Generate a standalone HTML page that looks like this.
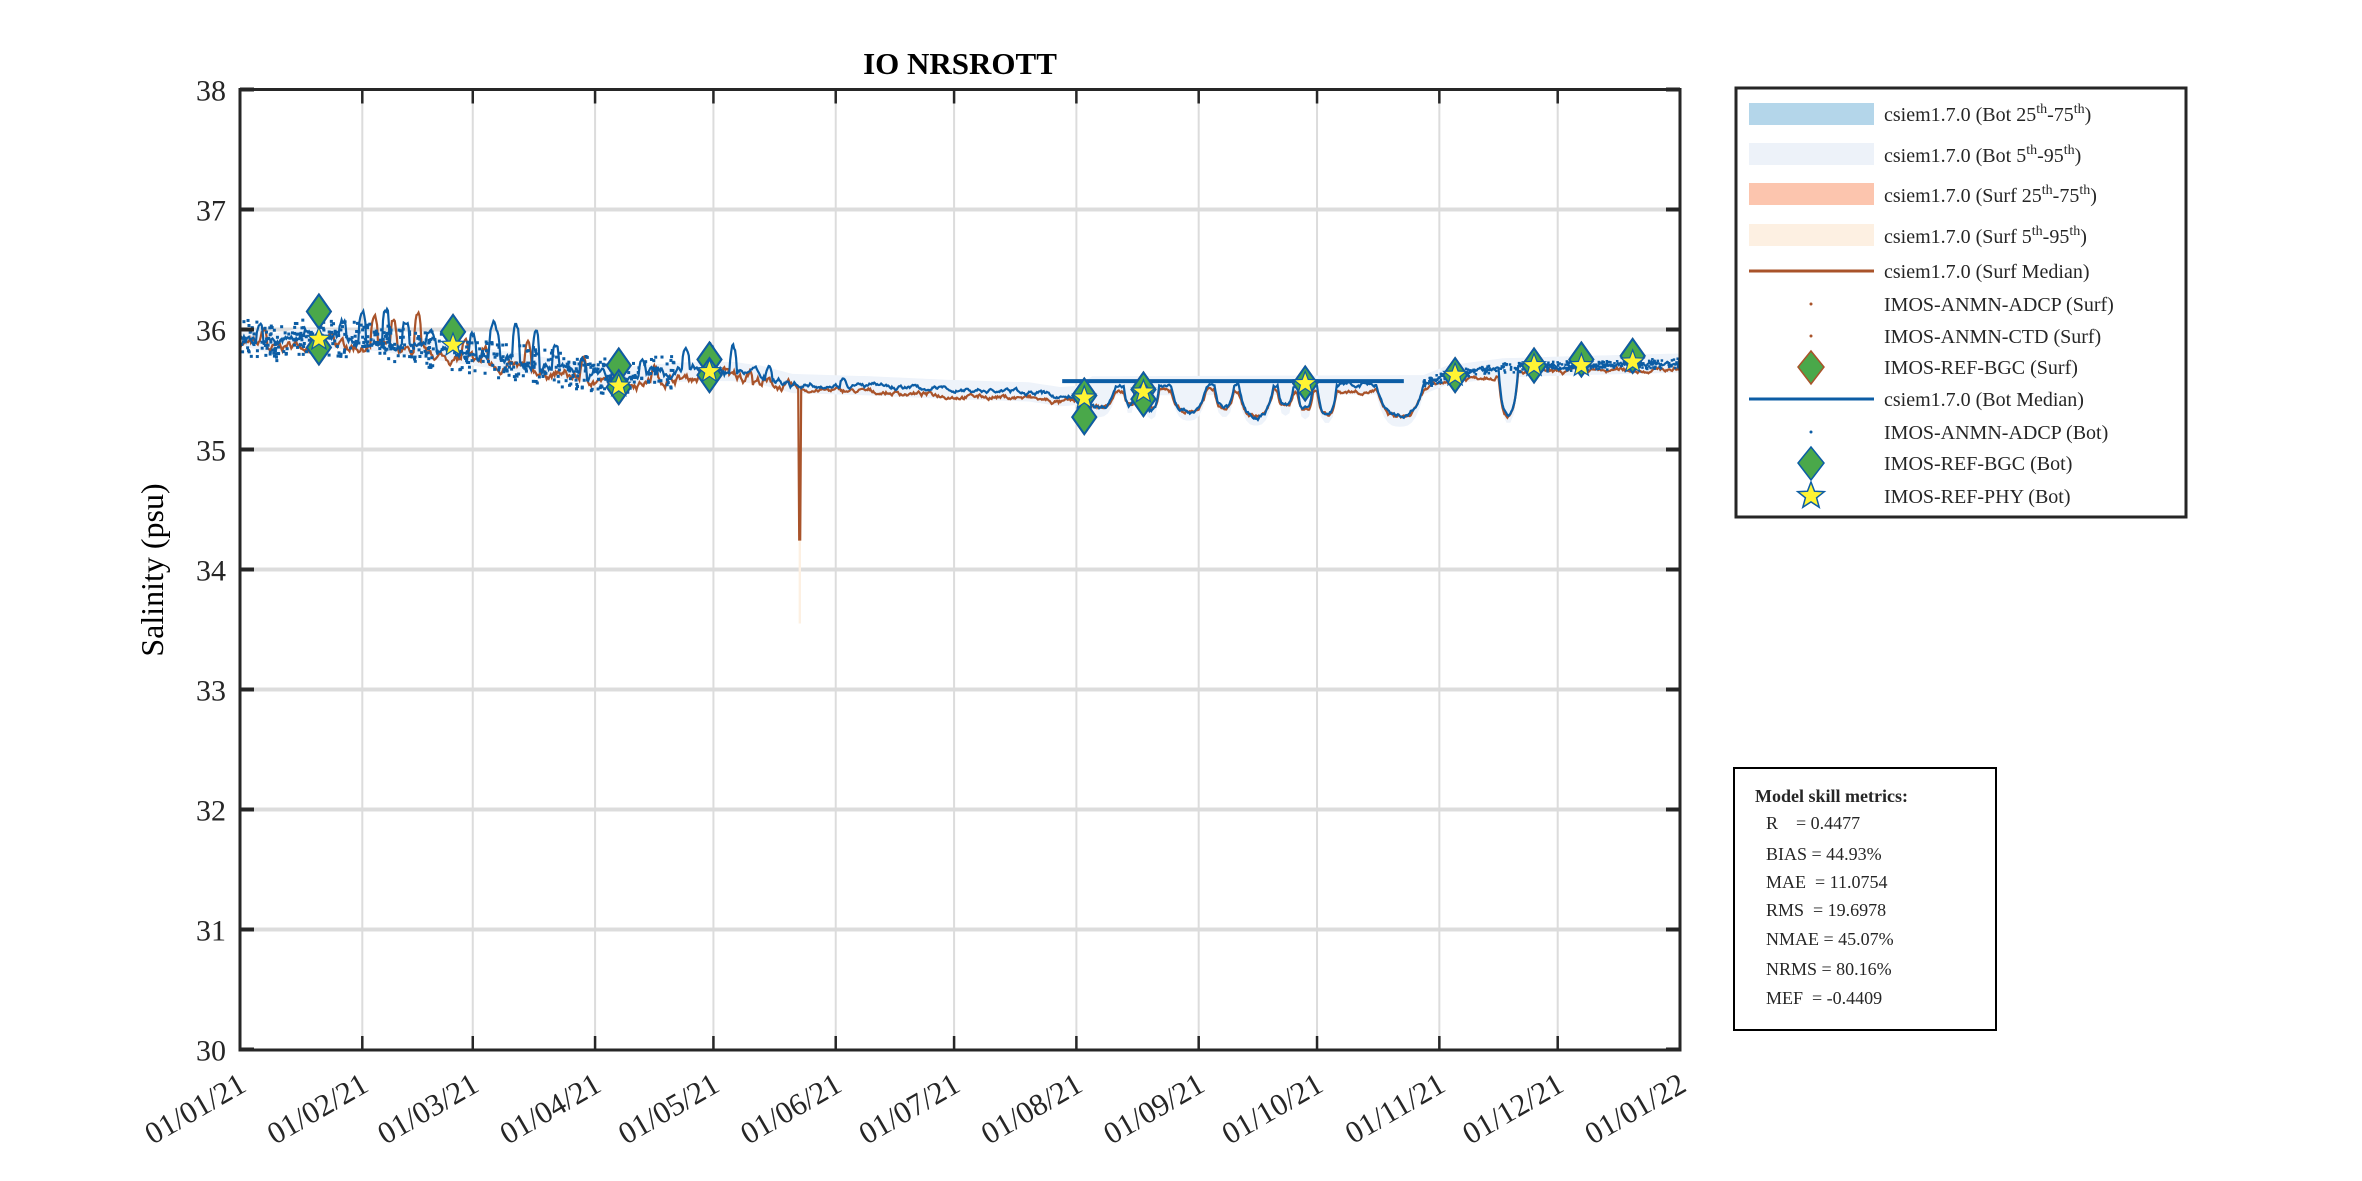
<!DOCTYPE html>
<html><head><meta charset="utf-8"><style>
html,body{margin:0;padding:0;background:#fff}
svg{display:block}
text{font-family:"Liberation Serif",serif;fill:#262626}
</style></head><body>
<svg id="s" width="2362" height="1181" viewBox="0 0 2362 1181" xmlns="http://www.w3.org/2000/svg">
<rect width="2362" height="1181" fill="#fff"/>
<g id="grid" stroke="#dcdcdc" stroke-width="2"></g>
<g id="data"></g>
<g id="axes"></g>
<text x="960" y="74" font-size="31" font-weight="bold" text-anchor="middle" style="fill:#000">IO NRSROTT</text>
<text transform="translate(163,570) rotate(-90)" font-size="32" text-anchor="middle" style="fill:#000">Salinity (psu)</text>
<g id="ylab" font-size="30" text-anchor="end"></g>
<g id="xlab" font-size="31" text-anchor="end"></g>
<rect x="1736" y="88" width="450" height="429" fill="#fff" stroke="#262626" stroke-width="3"/>
<rect x="1749" y="103" width="125" height="22" fill="#b4d6ea"/>
<rect x="1749" y="143" width="125" height="22" fill="#edf2f9"/>
<rect x="1749" y="183" width="125" height="22" fill="#fcc5ae"/>
<rect x="1749" y="224" width="125" height="22" fill="#fdf0e2"/>
<line x1="1749" y1="271" x2="1874" y2="271" stroke="#a9532a" stroke-width="3"/>
<circle cx="1811" cy="304" r="1.5" fill="#a9532a"/>
<circle cx="1811" cy="336" r="1.5" fill="#a9532a"/>
<polygon points="1811,351 1824,367 1811,384 1798,367" fill="#4aa84a" stroke="#a9532a" stroke-width="1.5"/>
<line x1="1749" y1="399" x2="1874" y2="399" stroke="#0c5da5" stroke-width="3"/>
<circle cx="1811" cy="432" r="1.5" fill="#0c5da5"/>
<polygon points="1811,447 1824,463 1811,480 1798,463" fill="#4aa84a" stroke="#0c5da5" stroke-width="1.5"/>
<polygon id="lstar" fill="#fff433" stroke="#0c5da5" stroke-width="1.5"/>
<g font-size="20" style="fill:#000">
<text x="1884" y="121">csiem1.7.0 (Bot 25<tspan dy="-8" font-size="14">th</tspan><tspan dy="8">-75</tspan><tspan dy="-8" font-size="14">th</tspan><tspan dy="8">)</tspan></text>
<text x="1884" y="162">csiem1.7.0 (Bot 5<tspan dy="-8" font-size="14">th</tspan><tspan dy="8">-95</tspan><tspan dy="-8" font-size="14">th</tspan><tspan dy="8">)</tspan></text>
<text x="1884" y="202">csiem1.7.0 (Surf 25<tspan dy="-8" font-size="14">th</tspan><tspan dy="8">-75</tspan><tspan dy="-8" font-size="14">th</tspan><tspan dy="8">)</tspan></text>
<text x="1884" y="243">csiem1.7.0 (Surf 5<tspan dy="-8" font-size="14">th</tspan><tspan dy="8">-95</tspan><tspan dy="-8" font-size="14">th</tspan><tspan dy="8">)</tspan></text>
<text x="1884" y="278">csiem1.7.0 (Surf Median)</text>
<text x="1884" y="311">IMOS-ANMN-ADCP (Surf)</text>
<text x="1884" y="343">IMOS-ANMN-CTD (Surf)</text>
<text x="1884" y="374">IMOS-REF-BGC (Surf)</text>
<text x="1884" y="406">csiem1.7.0 (Bot Median)</text>
<text x="1884" y="439">IMOS-ANMN-ADCP (Bot)</text>
<text x="1884" y="470">IMOS-REF-BGC (Bot)</text>
<text x="1884" y="503">IMOS-REF-PHY (Bot)</text>
</g>
<rect x="1734" y="768" width="262" height="262" fill="#fff" stroke="#000" stroke-width="2"/>
<g font-size="18" style="fill:#000">
<text x="1755" y="802" font-weight="bold">Model skill metrics:</text>
<text x="1766" y="829">R&#160;&#160;&#160;&#160;= 0.4477</text>
<text x="1766" y="860">BIAS = 44.93%</text>
<text x="1766" y="888">MAE&#160;&#160;= 11.0754</text>
<text x="1766" y="916">RMS&#160;&#160;= 19.6978</text>
<text x="1766" y="945">NMAE = 45.07%</text>
<text x="1766" y="975">NRMS = 80.16%</text>
<text x="1766" y="1004">MEF&#160;&#160;= -0.4409</text>
</g>
</svg>
<script>
var NS="http://www.w3.org/2000/svg";
var L=240,R=1680,T=89.5,B=1050;
function X(d){return L+d*(R-L)/365}
function Y(s){return T+(38-s)*120}
function el(p,tag,a){var e=document.createElementNS(NS,tag);for(var k in a)e.setAttribute(k,a[k]);p.appendChild(e);return e}
var g=document.getElementById('grid'),ax=document.getElementById('axes'),yl=document.getElementById('ylab'),xl=document.getElementById('xlab'),dt=document.getElementById('data');
var md=[0,31,59,90,120,151,181,212,243,273,304,334,365];
var lbl=["01/01/21","01/02/21","01/03/21","01/04/21","01/05/21","01/06/21","01/07/21","01/08/21","01/09/21","01/10/21","01/11/21","01/12/21","01/01/22"];
for(var i=1;i<12;i++){var x=X(md[i]);el(g,'line',{x1:x,y1:T,x2:x,y2:B});}
for(var s=31;s<38;s++){el(g,'line',{x1:L,y1:Y(s),x2:R,y2:Y(s),'stroke-width':4});}
var seed=7;function rnd(){seed=(seed*16807)%2147483647;return seed/2147483647}
function interp(kp,t){for(var i=1;i<kp.length;i++){if(t<=kp[i][0]){var a=kp[i-1],b=kp[i];return a[1]+(b[1]-a[1])*(t-a[0])/(b[0]-a[0])}}return kp[kp.length-1][1]}
var base=[[0,35.95],[8,35.88],[15,35.93],[25,35.92],[35,35.9],[45,35.85],[55,35.8],[65,35.75],[75,35.7],[85,35.65],[95,35.6],[105,35.63],[115,35.65],[125,35.65],[132,35.62],[140,35.55],[160,35.53],[180,35.5],[200,35.48],[208,35.44],[212,35.45],[216,35.53],[300,35.54],[306,35.62],[320,35.68],[340,35.7],[365,35.72]];
var dips=[[213,222,35.35],[224,227,35.38],[229,233,35.33],[236,245,35.32],[247,252,35.35],[253,262,35.28],[263,267,35.36],[268,272,35.33],[273,278,35.3],[288,300,35.27],[319,324,35.3]];
var bspk=[[4,6,36.05],[16,18,36.0],[25,27,36.05],[30,32,36.15],[36,38,36.2],[41,43,36.05],[47,50,36.0],[53,55,36.05],[58,60,35.95],[63,66,36.03],[69,71,36.03],[74,76,36.0],[79,81,35.85],[86,88,35.8],[94,96,35.75],[101,103,35.75],[112,114,35.82],[118,121,35.9],[124,126,35.88],[133,135,35.72],[152,154,35.6]];
var rspk=[[5,7,36.0],[22,24,35.95],[33,35,36.1],[38,40,36.05],[44,46,36.1],[56,58,35.9],[61,63,35.85],[72,74,35.85],[86,88,35.75],[104,106,35.7],[122,124,35.7],[128,130,35.7]];
function bump(list,t,v){for(var i=0;i<list.length;i++){var q=list[i];if(t>=q[0]&&t<=q[1]){var m=(q[0]+q[1])/2,w=(q[1]-q[0])/2;var f=1-Math.pow(Math.abs(t-m)/w,3);v=v+(q[2]-v)*Math.max(0,f)}}return v}
function series(off,spk,nz,isR){var pts=[],w=0;for(var t=0;t<=365;t+=0.25){var v=interp(base,t)+off;v=bump(spk,t,v);v=bump(dips,t,v-(isR?0.02:0));var n=(t<140?nz:nz*0.5);w=0.85*w+(rnd()-0.5)*n;v+=w+(rnd()-0.5)*n*0.3;if(isR&&t>141.5&&t<142.2)v=34.25;pts.push(X(t).toFixed(1)+','+Y(v).toFixed(1))}return pts.join(' ')}
var band=[];
for(var t=0;t<=365;t+=1){band.push(X(t)+','+Y(interp(base,t)+0.08))}
for(var t=365;t>=0;t-=1){band.push(X(t)+','+Y(bump(dips,t,interp(base,t))-0.08))}
el(dt,'polygon',{points:band.join(' '),fill:'#eef3fa'});
el(dt,'polygon',{points:[X(141.6)+','+Y(35.5),X(142.2)+','+Y(35.5),X(142.2)+','+Y(33.55),X(141.6)+','+Y(33.55)].join(' '),fill:'#fdf0e2'});
el(dt,'polyline',{points:series(-0.03,rspk,0.05,true),fill:'none',stroke:'#a9532a','stroke-width':2.2});
el(dt,'polyline',{points:series(0.0,bspk,0.05,false),fill:'none',stroke:'#0c5da5','stroke-width':2.2});
for(var i=0;i<500;i++){var t=rnd()*110;var v=interp(base,t)+(rnd()-0.5)*0.3;el(dt,'rect',{x:X(t)-1.5,y:Y(v)-1.5,width:3,height:3,fill:'#0c5da5'})}
for(var i=0;i<300;i++){var t=300+rnd()*65;var v=interp(base,t)+(rnd()-0.5)*0.08;el(dt,'rect',{x:X(t)-1,y:Y(v)-1,width:2.5,height:2.5,fill:'#0c5da5'})}
el(dt,'line',{x1:X(208.4),y1:Y(35.57),x2:X(295),y2:Y(35.57),stroke:'#0c5da5','stroke-width':4});
function star(cx,cy,r){var p=[];for(var i=0;i<10;i++){var a=-Math.PI/2+i*Math.PI/5,rr=i%2?r*0.42:r;p.push((cx+rr*Math.cos(a)).toFixed(1)+','+(cy+rr*Math.sin(a)).toFixed(1))}return p.join(' ')}
function dia(d,s,c){var x=X(d),y=Y(s);el(dt,'polygon',{points:[x+','+(y-17),(x+12)+','+y,x+','+(y+17),(x-12)+','+y].join(' '),fill:'#4aa84a',stroke:c,'stroke-width':2})}
var mk=[[20,[36.15,35.85],35.92],[54,[35.98],35.87],[96,[35.7,35.52],35.53],[119,[35.75,35.62],35.65],[214,[35.45,35.27],35.43],[229,[35.5,35.42],35.48],[270,[35.55],35.55],[308,[35.62],35.62],[328,[35.7],35.7],[340,[35.75],35.7],[353,[35.78],35.73]];
mk.forEach(function(m){m[1].forEach(function(s){dia(m[0],s,'#a9532a');dia(m[0],s,'#0c5da5')});el(dt,'polygon',{points:star(X(m[0]),Y(m[2]),12),fill:'#fff433',stroke:'#0c5da5','stroke-width':1.2})});
document.getElementById('lstar').setAttribute('points',star(1811,496,14));
el(ax,'rect',{x:L,y:T,width:R-L,height:B-T,fill:'none',stroke:'#262626','stroke-width':3});
for(var i=1;i<12;i++){var x=X(md[i]);el(ax,'line',{x1:x,y1:T,x2:x,y2:T+14,stroke:'#262626','stroke-width':2.5});el(ax,'line',{x1:x,y1:B,x2:x,y2:B-14,stroke:'#262626','stroke-width':2.5});}
for(var s=30;s<=38;s++){var y=Y(s);el(ax,'line',{x1:L,y1:y,x2:L+14,y2:y,stroke:'#262626','stroke-width':4});el(ax,'line',{x1:R,y1:y,x2:R-14,y2:y,stroke:'#262626','stroke-width':4});var t=el(yl,'text',{x:226,y:y+11});t.textContent=s;}
for(var i=0;i<13;i++){var t=el(xl,'text',{transform:'translate('+(X(md[i])+8)+',1090) rotate(-30)'});t.textContent=lbl[i];}
</script>
</body></html>
